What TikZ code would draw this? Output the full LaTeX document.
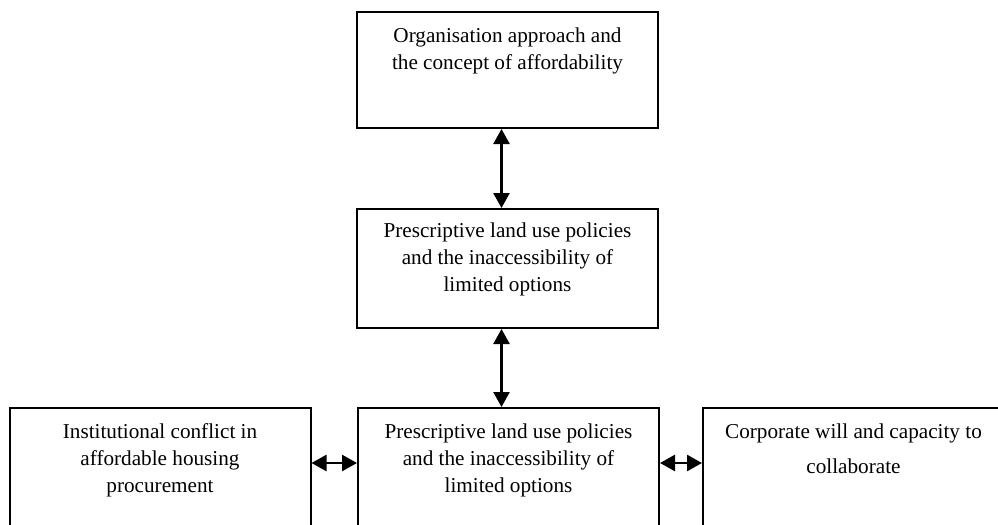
\documentclass[tikz,border=0pt]{standalone}
\usepackage{fontspec}
\setmainfont{Liberation Serif}
\usetikzlibrary{arrows.meta,positioning}
\tikzset{
  box/.style={draw,line width=1pt,minimum width=150.5pt,inner sep=0pt},
  txt/.style={align=center,inner sep=0pt,font=\fontsize{10.6}{13.5}\selectfont},
  link/.style={{Triangle[length=7.5pt,width=8pt]}-{Triangle[length=7.5pt,width=8pt]},line width=1.3pt},
}
\begin{document}
\begin{tikzpicture}[x=0.5pt,y=-0.5pt]
  \useasboundingbox (0,0) rectangle (998,525);
  \clip (0,0) rectangle (998,525);   % bottom row runs off the page
  \node[box,minimum height=58pt] (top) at (507.5,70) {};
  \node[box,minimum height=59.5pt] (mid) at (507.5,268.5) {};
  \node[box,minimum height=80pt,anchor=north] (left) at (160,407) {};
  \node[box,minimum height=80pt,anchor=north] (bmid) at (508.5,407) {};
  \node[box,minimum height=80pt,anchor=north] (right) at (853.5,407) {};
  \node[txt,below=8pt of top.north] (topt) {Organisation approach and\\the concept of affordability};
  \node[txt,below=7pt of mid.north] (midt) {Prescriptive land use policies\\and the inaccessibility of\\limited options};
  \node[txt,below=8pt of left.north] (leftt) {Institutional conflict in\\affordable housing\\procurement};
  \node[txt,below=8pt of bmid.north] (bmidt) {Prescriptive land use policies\\and the inaccessibility of\\limited options};
  \node[txt,font=\fontsize{10.6}{17.5}\selectfont,below=8pt of right.north] (rightt) {Corporate will and capacity to\\collaborate};
  \draw[link] ([xshift=-3pt]top.south) -- ([xshift=-3pt]mid.north);
  \draw[link] ([xshift=-3pt]mid.south) -- ([xshift=-3pt]mid.south |- bmid.north);
  \draw[link] ([yshift=-28pt]left.north east) -- ([yshift=-28pt]bmid.north west);
  \draw[link] ([yshift=-28pt]bmid.north east) -- ([yshift=-28pt]right.north west);
\end{tikzpicture}
\end{document}
